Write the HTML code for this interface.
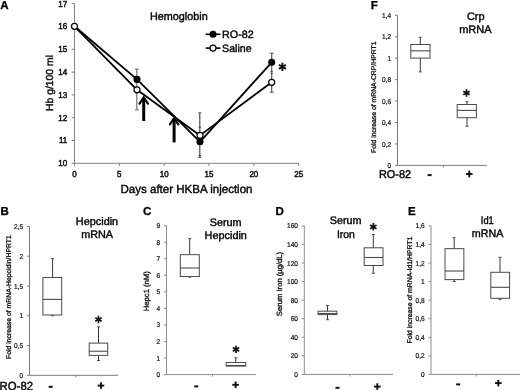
<!DOCTYPE html>
<html><head><meta charset="utf-8"><title>Figure</title>
<style>
html,body{margin:0;padding:0;background:#fff;}
body{width:520px;height:390px;overflow:hidden;font-family:"Liberation Sans",sans-serif;}
svg{display:block;will-change:transform;filter:blur(0.35px);}
text{font-family:"Liberation Sans",sans-serif;text-rendering:geometricPrecision;}
</style></head><body>
<svg width="520" height="390" viewBox="0 0 520 390" font-family="'Liberation Sans', sans-serif">
<rect width="520" height="390" fill="#fff"/>
<line x1="74.50" y1="3.70" x2="74.50" y2="163.30" stroke="#858585" stroke-width="1"/>
<line x1="74.50" y1="163.30" x2="298.70" y2="163.30" stroke="#858585" stroke-width="1"/>
<line x1="71.70" y1="163.30" x2="74.50" y2="163.30" stroke="#7a7a7a" stroke-width="1"/>
<text x="0" y="0" font-size="8.6" text-anchor="end" font-weight="normal" fill="#111" transform="translate(67.20 166.20) scale(0.93 1)" stroke="#111" stroke-width="0.5">10</text>
<line x1="71.70" y1="140.50" x2="74.50" y2="140.50" stroke="#7a7a7a" stroke-width="1"/>
<text x="0" y="0" font-size="8.6" text-anchor="end" font-weight="normal" fill="#111" transform="translate(67.20 143.40) scale(0.93 1)" stroke="#111" stroke-width="0.5">11</text>
<line x1="71.70" y1="117.70" x2="74.50" y2="117.70" stroke="#7a7a7a" stroke-width="1"/>
<text x="0" y="0" font-size="8.6" text-anchor="end" font-weight="normal" fill="#111" transform="translate(67.20 120.60) scale(0.93 1)" stroke="#111" stroke-width="0.5">12</text>
<line x1="71.70" y1="94.90" x2="74.50" y2="94.90" stroke="#7a7a7a" stroke-width="1"/>
<text x="0" y="0" font-size="8.6" text-anchor="end" font-weight="normal" fill="#111" transform="translate(67.20 97.80) scale(0.93 1)" stroke="#111" stroke-width="0.5">13</text>
<line x1="71.70" y1="72.10" x2="74.50" y2="72.10" stroke="#7a7a7a" stroke-width="1"/>
<text x="0" y="0" font-size="8.6" text-anchor="end" font-weight="normal" fill="#111" transform="translate(67.20 75.00) scale(0.93 1)" stroke="#111" stroke-width="0.5">14</text>
<line x1="71.70" y1="49.30" x2="74.50" y2="49.30" stroke="#7a7a7a" stroke-width="1"/>
<text x="0" y="0" font-size="8.6" text-anchor="end" font-weight="normal" fill="#111" transform="translate(67.20 52.20) scale(0.93 1)" stroke="#111" stroke-width="0.5">15</text>
<line x1="71.70" y1="26.50" x2="74.50" y2="26.50" stroke="#7a7a7a" stroke-width="1"/>
<text x="0" y="0" font-size="8.6" text-anchor="end" font-weight="normal" fill="#111" transform="translate(67.20 29.40) scale(0.93 1)" stroke="#111" stroke-width="0.5">16</text>
<line x1="71.70" y1="3.70" x2="74.50" y2="3.70" stroke="#7a7a7a" stroke-width="1"/>
<text x="0" y="0" font-size="8.6" text-anchor="end" font-weight="normal" fill="#111" transform="translate(67.20 6.60) scale(0.93 1)" stroke="#111" stroke-width="0.5">17</text>
<line x1="74.50" y1="163.30" x2="74.50" y2="165.90" stroke="#7a7a7a" stroke-width="1"/>
<text x="0" y="0" font-size="8.6" text-anchor="middle" font-weight="normal" fill="#111" transform="translate(74.50 176.60) scale(0.93 1)" stroke="#111" stroke-width="0.5">0</text>
<line x1="119.34" y1="163.30" x2="119.34" y2="165.90" stroke="#7a7a7a" stroke-width="1"/>
<text x="0" y="0" font-size="8.6" text-anchor="middle" font-weight="normal" fill="#111" transform="translate(119.34 176.60) scale(0.93 1)" stroke="#111" stroke-width="0.5">5</text>
<line x1="164.18" y1="163.30" x2="164.18" y2="165.90" stroke="#7a7a7a" stroke-width="1"/>
<text x="0" y="0" font-size="8.6" text-anchor="middle" font-weight="normal" fill="#111" transform="translate(164.18 176.60) scale(0.93 1)" stroke="#111" stroke-width="0.5">10</text>
<line x1="209.02" y1="163.30" x2="209.02" y2="165.90" stroke="#7a7a7a" stroke-width="1"/>
<text x="0" y="0" font-size="8.6" text-anchor="middle" font-weight="normal" fill="#111" transform="translate(209.02 176.60) scale(0.93 1)" stroke="#111" stroke-width="0.5">15</text>
<line x1="253.86" y1="163.30" x2="253.86" y2="165.90" stroke="#7a7a7a" stroke-width="1"/>
<text x="0" y="0" font-size="8.6" text-anchor="middle" font-weight="normal" fill="#111" transform="translate(253.86 176.60) scale(0.93 1)" stroke="#111" stroke-width="0.5">20</text>
<line x1="298.70" y1="163.30" x2="298.70" y2="165.90" stroke="#7a7a7a" stroke-width="1"/>
<text x="0" y="0" font-size="8.6" text-anchor="middle" font-weight="normal" fill="#111" transform="translate(298.70 176.60) scale(0.93 1)" stroke="#111" stroke-width="0.5">25</text>
<text x="53.4" y="83" font-size="10.2" text-anchor="middle" font-weight="normal" fill="#111" transform="rotate(-90 53.4 83)" textLength="56" lengthAdjust="spacingAndGlyphs" stroke="#111" stroke-width="0.45">Hb g/100 ml</text>
<text x="120.5" y="193.1" font-size="11.7" text-anchor="start" font-weight="normal" fill="#050505" textLength="132" lengthAdjust="spacingAndGlyphs" stroke="#050505" stroke-width="0.42">Days after HKBA injection</text>
<text x="150" y="20.1" font-size="11" text-anchor="start" font-weight="normal" fill="#050505" textLength="57.7" lengthAdjust="spacingAndGlyphs" stroke="#050505" stroke-width="0.42">Hemoglobin</text>
<text x="0.3" y="9.2" font-size="11.5" text-anchor="start" font-weight="bold" fill="#000" stroke="#000" stroke-width="0.3">A</text>
<line x1="136.80" y1="69.10" x2="136.80" y2="109.90" stroke="#6e6e6e" stroke-width="1.15"/>
<line x1="134.80" y1="69.10" x2="138.80" y2="69.10" stroke="#6e6e6e" stroke-width="1"/>
<line x1="134.80" y1="109.90" x2="138.80" y2="109.90" stroke="#6e6e6e" stroke-width="1"/>
<line x1="199.80" y1="112.90" x2="199.80" y2="157.60" stroke="#454545" stroke-width="1.15"/>
<line x1="198.20" y1="112.90" x2="201.40" y2="112.90" stroke="#454545" stroke-width="1"/>
<line x1="198.60" y1="127.20" x2="201.00" y2="127.20" stroke="#454545" stroke-width="1"/>
<line x1="198.40" y1="155.70" x2="201.20" y2="155.70" stroke="#454545" stroke-width="1"/>
<line x1="198.40" y1="157.40" x2="201.20" y2="157.40" stroke="#454545" stroke-width="1"/>
<line x1="271.70" y1="53.20" x2="271.70" y2="92.20" stroke="#505050" stroke-width="1.15"/>
<line x1="269.70" y1="53.20" x2="273.70" y2="53.20" stroke="#505050" stroke-width="1"/>
<line x1="270.50" y1="71.60" x2="272.90" y2="71.60" stroke="#505050" stroke-width="1"/>
<line x1="270.50" y1="73.30" x2="272.90" y2="73.30" stroke="#505050" stroke-width="1"/>
<line x1="269.70" y1="92.20" x2="273.70" y2="92.20" stroke="#505050" stroke-width="1"/>
<polyline points="74.50,26.30 137.00,89.80 200.00,135.40 271.70,82.30" fill="none" stroke="#000" stroke-width="1.8" stroke-linejoin="round"/>
<polyline points="74.50,26.30 137.00,79.40 200.00,141.80 271.70,62.30" fill="none" stroke="#000" stroke-width="1.8" stroke-linejoin="round"/>
<circle cx="137.00" cy="79.40" r="3.55" fill="#000"/>
<circle cx="200.00" cy="141.80" r="3.55" fill="#000"/>
<circle cx="271.70" cy="62.30" r="3.55" fill="#000"/>
<circle cx="74.50" cy="26.30" r="3.0" fill="#fff" stroke="#000" stroke-width="1.2"/>
<circle cx="137.00" cy="89.80" r="3.0" fill="#fff" stroke="#000" stroke-width="1.2"/>
<circle cx="200.00" cy="135.40" r="3.0" fill="#fff" stroke="#000" stroke-width="1.2"/>
<circle cx="271.70" cy="82.30" r="3.0" fill="#fff" stroke="#000" stroke-width="1.2"/>
<path d="M143.7 121.0 L143.7 98.0" stroke="#000" stroke-width="3.0" fill="none"/>
<path d="M139.5 103.7 L143.7 97.5 L147.89999999999998 103.7" stroke="#000" stroke-width="2.2" fill="none" stroke-linecap="round" stroke-linejoin="miter"/>
<path d="M174.1 142.4 L174.1 118.7" stroke="#000" stroke-width="3.0" fill="none"/>
<path d="M169.9 124.4 L174.1 118.2 L178.29999999999998 124.4" stroke="#000" stroke-width="2.2" fill="none" stroke-linecap="round" stroke-linejoin="miter"/>
<line x1="205.70" y1="34.30" x2="220.50" y2="34.30" stroke="#000" stroke-width="1.6"/>
<circle cx="213" cy="34.3" r="3.55" fill="#000"/>
<text x="222.1" y="38.2" font-size="10.7" text-anchor="start" font-weight="normal" fill="#050505" textLength="31.6" lengthAdjust="spacingAndGlyphs" stroke="#050505" stroke-width="0.42">RO-82</text>
<line x1="205.70" y1="48.10" x2="220.50" y2="48.10" stroke="#000" stroke-width="1.6"/>
<circle cx="213" cy="48.1" r="3.0" fill="#fff" stroke="#000" stroke-width="1.2"/>
<text x="222.1" y="52" font-size="10.7" text-anchor="start" font-weight="normal" fill="#050505" textLength="29.5" lengthAdjust="spacingAndGlyphs" stroke="#050505" stroke-width="0.42">Saline</text>
<path d="M282.40 62.70L282.40 70.90M278.85 64.75L285.95 68.85M285.95 64.75L278.85 68.85" stroke="#111" stroke-width="1.9" fill="none"/>
<line x1="397.50" y1="15.30" x2="397.50" y2="165.40" stroke="#7a7a7a" stroke-width="1"/>
<line x1="397.50" y1="165.40" x2="487.00" y2="165.40" stroke="#7a7a7a" stroke-width="1"/>
<line x1="395.00" y1="165.40" x2="397.50" y2="165.40" stroke="#7a7a7a" stroke-width="1"/>
<text x="0" y="0" font-size="7.1" text-anchor="end" font-weight="normal" fill="#151515" transform="translate(391.10 167.95) scale(0.92 1)" stroke="#151515" stroke-width="0.22">0</text>
<line x1="395.00" y1="143.96" x2="397.50" y2="143.96" stroke="#7a7a7a" stroke-width="1"/>
<text x="0" y="0" font-size="7.1" text-anchor="end" font-weight="normal" fill="#151515" transform="translate(391.10 146.51) scale(0.92 1)" stroke="#151515" stroke-width="0.22">0,2</text>
<line x1="395.00" y1="122.51" x2="397.50" y2="122.51" stroke="#7a7a7a" stroke-width="1"/>
<text x="0" y="0" font-size="7.1" text-anchor="end" font-weight="normal" fill="#151515" transform="translate(391.10 125.06) scale(0.92 1)" stroke="#151515" stroke-width="0.22">0,4</text>
<line x1="395.00" y1="101.07" x2="397.50" y2="101.07" stroke="#7a7a7a" stroke-width="1"/>
<text x="0" y="0" font-size="7.1" text-anchor="end" font-weight="normal" fill="#151515" transform="translate(391.10 103.62) scale(0.92 1)" stroke="#151515" stroke-width="0.22">0,6</text>
<line x1="395.00" y1="79.63" x2="397.50" y2="79.63" stroke="#7a7a7a" stroke-width="1"/>
<text x="0" y="0" font-size="7.1" text-anchor="end" font-weight="normal" fill="#151515" transform="translate(391.10 82.18) scale(0.92 1)" stroke="#151515" stroke-width="0.22">0,8</text>
<line x1="395.00" y1="58.19" x2="397.50" y2="58.19" stroke="#7a7a7a" stroke-width="1"/>
<text x="0" y="0" font-size="7.1" text-anchor="end" font-weight="normal" fill="#151515" transform="translate(391.10 60.74) scale(0.92 1)" stroke="#151515" stroke-width="0.22">1</text>
<line x1="395.00" y1="36.74" x2="397.50" y2="36.74" stroke="#7a7a7a" stroke-width="1"/>
<text x="0" y="0" font-size="7.1" text-anchor="end" font-weight="normal" fill="#151515" transform="translate(391.10 39.29) scale(0.92 1)" stroke="#151515" stroke-width="0.22">1,2</text>
<line x1="395.00" y1="15.30" x2="397.50" y2="15.30" stroke="#7a7a7a" stroke-width="1"/>
<text x="0" y="0" font-size="7.1" text-anchor="end" font-weight="normal" fill="#151515" transform="translate(391.10 17.85) scale(0.92 1)" stroke="#151515" stroke-width="0.22">1,4</text>
<line x1="443.25" y1="165.40" x2="443.25" y2="167.40" stroke="#7a7a7a" stroke-width="1"/>
<line x1="420.30" y1="37.30" x2="420.30" y2="44.50" stroke="#383838" stroke-width="1"/>
<line x1="418.80" y1="37.30" x2="421.80" y2="37.30" stroke="#4a4a4a" stroke-width="1"/>
<line x1="420.30" y1="58.10" x2="420.30" y2="71.90" stroke="#383838" stroke-width="1"/>
<line x1="418.80" y1="71.90" x2="421.80" y2="71.90" stroke="#4a4a4a" stroke-width="1"/>
<rect x="410.80" y="44.50" width="19.20" height="13.60" fill="#fff" stroke="#4a4a4a" stroke-width="1"/>
<line x1="410.80" y1="50.85" x2="430.00" y2="50.85" stroke="#4a4a4a" stroke-width="1.1"/>
<line x1="467.00" y1="101.70" x2="467.00" y2="104.50" stroke="#383838" stroke-width="1"/>
<line x1="465.50" y1="101.70" x2="468.50" y2="101.70" stroke="#4a4a4a" stroke-width="1"/>
<line x1="467.00" y1="117.70" x2="467.00" y2="126.30" stroke="#383838" stroke-width="1"/>
<line x1="465.50" y1="126.30" x2="468.50" y2="126.30" stroke="#4a4a4a" stroke-width="1"/>
<rect x="457.20" y="104.50" width="19.20" height="13.20" fill="#fff" stroke="#4a4a4a" stroke-width="1"/>
<line x1="457.20" y1="110.40" x2="476.40" y2="110.40" stroke="#4a4a4a" stroke-width="1.1"/>
<text x="376.2" y="97.2" font-size="6.83" text-anchor="middle" font-weight="normal" fill="#111" transform="rotate(-90 376.2 97.2)" textLength="111.5" lengthAdjust="spacingAndGlyphs" stroke="#111" stroke-width="0.32">Fold increase of mRNA-CRP/HPRT1</text>
<text x="466.9" y="19.7" font-size="10.9" text-anchor="start" font-weight="normal" fill="#050505" textLength="17.7" lengthAdjust="spacingAndGlyphs" stroke="#050505" stroke-width="0.42">Crp</text>
<text x="459.2" y="32.6" font-size="10.9" text-anchor="start" font-weight="normal" fill="#050505" textLength="32.3" lengthAdjust="spacingAndGlyphs" stroke="#050505" stroke-width="0.42">mRNA</text>
<text x="370.8" y="9.2" font-size="11.5" text-anchor="start" font-weight="bold" fill="#000" stroke="#000" stroke-width="0.3">F</text>
<rect x="427.60" y="174.10" width="4.0" height="2.0" fill="#111"/>
<rect x="465.95" y="173.05" width="6.6" height="1.9" fill="#111"/>
<rect x="468.30" y="170.70" width="1.9" height="6.6" fill="#111"/>
<text x="378.9" y="177.6" font-size="11.3" text-anchor="start" font-weight="normal" fill="#050505" textLength="32.2" lengthAdjust="spacingAndGlyphs" stroke="#050505" stroke-width="0.45">RO-82</text>
<path d="M466.50 89.30L466.50 96.70M463.30 91.15L469.70 94.85M469.70 91.15L463.30 94.85" stroke="#111" stroke-width="1.7" fill="none"/>
<line x1="29.50" y1="226.40" x2="29.50" y2="375.30" stroke="#7a7a7a" stroke-width="1"/>
<line x1="29.50" y1="375.30" x2="118.00" y2="375.30" stroke="#7a7a7a" stroke-width="1"/>
<line x1="27.00" y1="375.30" x2="29.50" y2="375.30" stroke="#7a7a7a" stroke-width="1"/>
<text x="0" y="0" font-size="7.1" text-anchor="end" font-weight="normal" fill="#151515" transform="translate(23.10 377.85) scale(0.92 1)" stroke="#151515" stroke-width="0.22">0</text>
<line x1="27.00" y1="345.52" x2="29.50" y2="345.52" stroke="#7a7a7a" stroke-width="1"/>
<text x="0" y="0" font-size="7.1" text-anchor="end" font-weight="normal" fill="#151515" transform="translate(23.10 348.07) scale(0.92 1)" stroke="#151515" stroke-width="0.22">0,5</text>
<line x1="27.00" y1="315.74" x2="29.50" y2="315.74" stroke="#7a7a7a" stroke-width="1"/>
<text x="0" y="0" font-size="7.1" text-anchor="end" font-weight="normal" fill="#151515" transform="translate(23.10 318.29) scale(0.92 1)" stroke="#151515" stroke-width="0.22">1</text>
<line x1="27.00" y1="285.96" x2="29.50" y2="285.96" stroke="#7a7a7a" stroke-width="1"/>
<text x="0" y="0" font-size="7.1" text-anchor="end" font-weight="normal" fill="#151515" transform="translate(23.10 288.51) scale(0.92 1)" stroke="#151515" stroke-width="0.22">1,5</text>
<line x1="27.00" y1="256.18" x2="29.50" y2="256.18" stroke="#7a7a7a" stroke-width="1"/>
<text x="0" y="0" font-size="7.1" text-anchor="end" font-weight="normal" fill="#151515" transform="translate(23.10 258.73) scale(0.92 1)" stroke="#151515" stroke-width="0.22">2</text>
<line x1="27.00" y1="226.40" x2="29.50" y2="226.40" stroke="#7a7a7a" stroke-width="1"/>
<text x="0" y="0" font-size="7.1" text-anchor="end" font-weight="normal" fill="#151515" transform="translate(23.10 228.95) scale(0.92 1)" stroke="#151515" stroke-width="0.22">2,5</text>
<line x1="75.75" y1="375.30" x2="75.75" y2="377.30" stroke="#7a7a7a" stroke-width="1"/>
<line x1="52.60" y1="258.65" x2="52.60" y2="277.50" stroke="#383838" stroke-width="1"/>
<line x1="51.10" y1="258.65" x2="54.10" y2="258.65" stroke="#4a4a4a" stroke-width="1"/>
<line x1="52.60" y1="315.00" x2="52.60" y2="315.70" stroke="#383838" stroke-width="1"/>
<line x1="51.10" y1="315.70" x2="54.10" y2="315.70" stroke="#4a4a4a" stroke-width="1"/>
<rect x="42.90" y="277.50" width="18.80" height="37.50" fill="#fff" stroke="#4a4a4a" stroke-width="1"/>
<line x1="42.90" y1="299.40" x2="61.70" y2="299.40" stroke="#4a4a4a" stroke-width="1.1"/>
<line x1="98.50" y1="326.90" x2="98.50" y2="343.10" stroke="#383838" stroke-width="1"/>
<line x1="97.00" y1="326.90" x2="100.00" y2="326.90" stroke="#4a4a4a" stroke-width="1"/>
<line x1="98.50" y1="355.40" x2="98.50" y2="360.50" stroke="#383838" stroke-width="1"/>
<line x1="97.00" y1="360.50" x2="100.00" y2="360.50" stroke="#4a4a4a" stroke-width="1"/>
<rect x="89.20" y="343.10" width="18.50" height="12.30" fill="#fff" stroke="#4a4a4a" stroke-width="1"/>
<line x1="89.20" y1="351.20" x2="107.70" y2="351.20" stroke="#4a4a4a" stroke-width="1.1"/>
<text x="10.7" y="297.1" font-size="6.84" text-anchor="middle" font-weight="normal" fill="#111" transform="rotate(-90 10.7 297.1)" textLength="123.8" lengthAdjust="spacingAndGlyphs" stroke="#111" stroke-width="0.32">Fold increase of mRNA-Hepcidin/HPRT1</text>
<text x="75.8" y="225" font-size="10.9" text-anchor="start" font-weight="normal" fill="#050505" textLength="42.4" lengthAdjust="spacingAndGlyphs" stroke="#050505" stroke-width="0.42">Hepcidin</text>
<text x="81.2" y="238.1" font-size="10.9" text-anchor="start" font-weight="normal" fill="#050505" textLength="31.9" lengthAdjust="spacingAndGlyphs" stroke="#050505" stroke-width="0.42">mRNA</text>
<text x="0.4" y="215.0" font-size="11.5" text-anchor="start" font-weight="bold" fill="#000" stroke="#000" stroke-width="0.3">B</text>
<rect x="48.70" y="385.80" width="4.0" height="2.0" fill="#111"/>
<rect x="97.65" y="384.65" width="6.6" height="1.9" fill="#111"/>
<rect x="100.00" y="382.30" width="1.9" height="6.6" fill="#111"/>
<text x="-0.4" y="389.9" font-size="11.8" text-anchor="start" font-weight="normal" fill="#050505" textLength="33.4" lengthAdjust="spacingAndGlyphs" stroke="#050505" stroke-width="0.45">RO-82</text>
<path d="M98.50 315.80L98.50 323.20M95.30 317.65L101.70 321.35M101.70 317.65L95.30 321.35" stroke="#111" stroke-width="1.7" fill="none"/>
<line x1="166.50" y1="225.60" x2="166.50" y2="374.60" stroke="#8c8c8c" stroke-width="1"/>
<line x1="166.50" y1="374.60" x2="255.80" y2="374.60" stroke="#8c8c8c" stroke-width="1"/>
<line x1="164.00" y1="374.60" x2="166.50" y2="374.60" stroke="#8c8c8c" stroke-width="1"/>
<text x="0" y="0" font-size="7.1" text-anchor="end" font-weight="normal" fill="#151515" transform="translate(160.10 377.15) scale(0.92 1)" stroke="#151515" stroke-width="0.22">0</text>
<line x1="164.00" y1="358.04" x2="166.50" y2="358.04" stroke="#8c8c8c" stroke-width="1"/>
<text x="0" y="0" font-size="7.1" text-anchor="end" font-weight="normal" fill="#151515" transform="translate(160.10 360.59) scale(0.92 1)" stroke="#151515" stroke-width="0.22">1</text>
<line x1="164.00" y1="341.49" x2="166.50" y2="341.49" stroke="#8c8c8c" stroke-width="1"/>
<text x="0" y="0" font-size="7.1" text-anchor="end" font-weight="normal" fill="#151515" transform="translate(160.10 344.04) scale(0.92 1)" stroke="#151515" stroke-width="0.22">2</text>
<line x1="164.00" y1="324.93" x2="166.50" y2="324.93" stroke="#8c8c8c" stroke-width="1"/>
<text x="0" y="0" font-size="7.1" text-anchor="end" font-weight="normal" fill="#151515" transform="translate(160.10 327.48) scale(0.92 1)" stroke="#151515" stroke-width="0.22">3</text>
<line x1="164.00" y1="308.38" x2="166.50" y2="308.38" stroke="#8c8c8c" stroke-width="1"/>
<text x="0" y="0" font-size="7.1" text-anchor="end" font-weight="normal" fill="#151515" transform="translate(160.10 310.93) scale(0.92 1)" stroke="#151515" stroke-width="0.22">4</text>
<line x1="164.00" y1="291.82" x2="166.50" y2="291.82" stroke="#8c8c8c" stroke-width="1"/>
<text x="0" y="0" font-size="7.1" text-anchor="end" font-weight="normal" fill="#151515" transform="translate(160.10 294.37) scale(0.92 1)" stroke="#151515" stroke-width="0.22">5</text>
<line x1="164.00" y1="275.27" x2="166.50" y2="275.27" stroke="#8c8c8c" stroke-width="1"/>
<text x="0" y="0" font-size="7.1" text-anchor="end" font-weight="normal" fill="#151515" transform="translate(160.10 277.82) scale(0.92 1)" stroke="#151515" stroke-width="0.22">6</text>
<line x1="164.00" y1="258.71" x2="166.50" y2="258.71" stroke="#8c8c8c" stroke-width="1"/>
<text x="0" y="0" font-size="7.1" text-anchor="end" font-weight="normal" fill="#151515" transform="translate(160.10 261.26) scale(0.92 1)" stroke="#151515" stroke-width="0.22">7</text>
<line x1="164.00" y1="242.16" x2="166.50" y2="242.16" stroke="#8c8c8c" stroke-width="1"/>
<text x="0" y="0" font-size="7.1" text-anchor="end" font-weight="normal" fill="#151515" transform="translate(160.10 244.71) scale(0.92 1)" stroke="#151515" stroke-width="0.22">8</text>
<line x1="164.00" y1="225.60" x2="166.50" y2="225.60" stroke="#8c8c8c" stroke-width="1"/>
<text x="0" y="0" font-size="7.1" text-anchor="end" font-weight="normal" fill="#151515" transform="translate(160.10 228.15) scale(0.92 1)" stroke="#151515" stroke-width="0.22">9</text>
<line x1="212.50" y1="374.60" x2="212.50" y2="376.60" stroke="#8c8c8c" stroke-width="1"/>
<line x1="189.70" y1="238.45" x2="189.70" y2="254.65" stroke="#383838" stroke-width="1"/>
<line x1="188.20" y1="238.45" x2="191.20" y2="238.45" stroke="#4a4a4a" stroke-width="1"/>
<line x1="189.70" y1="276.50" x2="189.70" y2="277.10" stroke="#383838" stroke-width="1"/>
<line x1="188.20" y1="277.10" x2="191.20" y2="277.10" stroke="#4a4a4a" stroke-width="1"/>
<rect x="180.30" y="254.65" width="19.00" height="21.85" fill="#fff" stroke="#4a4a4a" stroke-width="1"/>
<line x1="180.30" y1="268.00" x2="199.30" y2="268.00" stroke="#4a4a4a" stroke-width="1.1"/>
<line x1="235.80" y1="357.80" x2="235.80" y2="362.50" stroke="#383838" stroke-width="1"/>
<line x1="234.30" y1="357.80" x2="237.30" y2="357.80" stroke="#4a4a4a" stroke-width="1"/>
<rect x="226.10" y="362.50" width="19.70" height="3.60" fill="#fff" stroke="#4a4a4a" stroke-width="1"/>
<line x1="226.10" y1="365.50" x2="245.80" y2="365.50" stroke="#4a4a4a" stroke-width="1.1"/>
<text x="149.2" y="291.2" font-size="7.65" text-anchor="middle" font-weight="normal" fill="#111" transform="rotate(-90 149.2 291.2)" textLength="40" lengthAdjust="spacingAndGlyphs" stroke="#111" stroke-width="0.32">Hepc1 (nM)</text>
<text x="209.7" y="225.8" font-size="10.9" text-anchor="start" font-weight="normal" fill="#050505" textLength="31.8" lengthAdjust="spacingAndGlyphs" stroke="#050505" stroke-width="0.42">Serum</text>
<text x="204.6" y="239.2" font-size="10.9" text-anchor="start" font-weight="normal" fill="#050505" textLength="42.3" lengthAdjust="spacingAndGlyphs" stroke="#050505" stroke-width="0.42">Hepcidin</text>
<text x="142.9" y="215.3" font-size="11.5" text-anchor="start" font-weight="bold" fill="#000" stroke="#000" stroke-width="0.3">C</text>
<rect x="194.25" y="385.40" width="4.0" height="2.0" fill="#111"/>
<rect x="232.30" y="383.85" width="6.6" height="1.9" fill="#111"/>
<rect x="234.65" y="381.50" width="1.9" height="6.6" fill="#111"/>
<path d="M236.00 345.70L236.00 353.10M232.80 347.55L239.20 351.25M239.20 347.55L232.80 351.25" stroke="#111" stroke-width="1.7" fill="none"/>
<line x1="304.30" y1="225.90" x2="304.30" y2="374.40" stroke="#8c8c8c" stroke-width="1"/>
<line x1="304.30" y1="374.40" x2="393.00" y2="374.40" stroke="#8c8c8c" stroke-width="1"/>
<line x1="301.80" y1="374.40" x2="304.30" y2="374.40" stroke="#8c8c8c" stroke-width="1"/>
<text x="0" y="0" font-size="7.1" text-anchor="end" font-weight="normal" fill="#151515" transform="translate(297.90 376.95) scale(0.92 1)" stroke="#151515" stroke-width="0.22">0</text>
<line x1="301.80" y1="355.84" x2="304.30" y2="355.84" stroke="#8c8c8c" stroke-width="1"/>
<text x="0" y="0" font-size="7.1" text-anchor="end" font-weight="normal" fill="#151515" transform="translate(297.90 358.39) scale(0.92 1)" stroke="#151515" stroke-width="0.22">20</text>
<line x1="301.80" y1="337.27" x2="304.30" y2="337.27" stroke="#8c8c8c" stroke-width="1"/>
<text x="0" y="0" font-size="7.1" text-anchor="end" font-weight="normal" fill="#151515" transform="translate(297.90 339.82) scale(0.92 1)" stroke="#151515" stroke-width="0.22">40</text>
<line x1="301.80" y1="318.71" x2="304.30" y2="318.71" stroke="#8c8c8c" stroke-width="1"/>
<text x="0" y="0" font-size="7.1" text-anchor="end" font-weight="normal" fill="#151515" transform="translate(297.90 321.26) scale(0.92 1)" stroke="#151515" stroke-width="0.22">60</text>
<line x1="301.80" y1="300.15" x2="304.30" y2="300.15" stroke="#8c8c8c" stroke-width="1"/>
<text x="0" y="0" font-size="7.1" text-anchor="end" font-weight="normal" fill="#151515" transform="translate(297.90 302.70) scale(0.92 1)" stroke="#151515" stroke-width="0.22">80</text>
<line x1="301.80" y1="281.59" x2="304.30" y2="281.59" stroke="#8c8c8c" stroke-width="1"/>
<text x="0" y="0" font-size="7.1" text-anchor="end" font-weight="normal" fill="#151515" transform="translate(297.90 284.14) scale(0.92 1)" stroke="#151515" stroke-width="0.22">100</text>
<line x1="301.80" y1="263.02" x2="304.30" y2="263.02" stroke="#8c8c8c" stroke-width="1"/>
<text x="0" y="0" font-size="7.1" text-anchor="end" font-weight="normal" fill="#151515" transform="translate(297.90 265.57) scale(0.92 1)" stroke="#151515" stroke-width="0.22">120</text>
<line x1="301.80" y1="244.46" x2="304.30" y2="244.46" stroke="#8c8c8c" stroke-width="1"/>
<text x="0" y="0" font-size="7.1" text-anchor="end" font-weight="normal" fill="#151515" transform="translate(297.90 247.01) scale(0.92 1)" stroke="#151515" stroke-width="0.22">140</text>
<line x1="301.80" y1="225.90" x2="304.30" y2="225.90" stroke="#8c8c8c" stroke-width="1"/>
<text x="0" y="0" font-size="7.1" text-anchor="end" font-weight="normal" fill="#151515" transform="translate(297.90 228.45) scale(0.92 1)" stroke="#151515" stroke-width="0.22">160</text>
<line x1="350.00" y1="374.40" x2="350.00" y2="376.40" stroke="#8c8c8c" stroke-width="1"/>
<line x1="327.50" y1="305.60" x2="327.50" y2="311.20" stroke="#383838" stroke-width="1"/>
<line x1="326.00" y1="305.60" x2="329.00" y2="305.60" stroke="#4a4a4a" stroke-width="1"/>
<line x1="327.50" y1="314.60" x2="327.50" y2="319.70" stroke="#383838" stroke-width="1"/>
<line x1="326.00" y1="319.70" x2="329.00" y2="319.70" stroke="#4a4a4a" stroke-width="1"/>
<rect x="318.10" y="311.20" width="18.80" height="3.40" fill="#fff" stroke="#4a4a4a" stroke-width="1"/>
<line x1="318.10" y1="313.60" x2="336.90" y2="313.60" stroke="#4a4a4a" stroke-width="1.1"/>
<line x1="373.30" y1="234.50" x2="373.30" y2="247.80" stroke="#383838" stroke-width="1"/>
<line x1="371.80" y1="234.50" x2="374.80" y2="234.50" stroke="#4a4a4a" stroke-width="1"/>
<line x1="373.30" y1="265.50" x2="373.30" y2="273.30" stroke="#383838" stroke-width="1"/>
<line x1="371.80" y1="273.30" x2="374.80" y2="273.30" stroke="#4a4a4a" stroke-width="1"/>
<rect x="364.20" y="247.80" width="18.80" height="17.70" fill="#fff" stroke="#4a4a4a" stroke-width="1"/>
<line x1="364.20" y1="257.50" x2="383.00" y2="257.50" stroke="#4a4a4a" stroke-width="1.1"/>
<text x="281.8" y="284" font-size="7.65" text-anchor="middle" font-weight="normal" fill="#111" transform="rotate(-90 281.8 284)" textLength="64.3" lengthAdjust="spacingAndGlyphs" stroke="#111" stroke-width="0.32">Serum Iron (µg/dL)</text>
<text x="329.7" y="224.2" font-size="10.9" text-anchor="start" font-weight="normal" fill="#050505" textLength="31.8" lengthAdjust="spacingAndGlyphs" stroke="#050505" stroke-width="0.42">Serum</text>
<text x="336.9" y="237.6" font-size="10.9" text-anchor="start" font-weight="normal" fill="#050505" textLength="18" lengthAdjust="spacingAndGlyphs" stroke="#050505" stroke-width="0.42">Iron</text>
<text x="275.5" y="215.1" font-size="11.5" text-anchor="start" font-weight="bold" fill="#000" stroke="#000" stroke-width="0.3">D</text>
<rect x="335.50" y="386.80" width="4.0" height="2.0" fill="#111"/>
<rect x="374.00" y="385.65" width="6.6" height="1.9" fill="#111"/>
<rect x="376.35" y="383.30" width="1.9" height="6.6" fill="#111"/>
<path d="M373.30 223.10L373.30 230.50M370.10 224.95L376.50 228.65M376.50 224.95L370.10 228.65" stroke="#111" stroke-width="1.7" fill="none"/>
<line x1="431.00" y1="225.90" x2="431.00" y2="374.40" stroke="#8c8c8c" stroke-width="1"/>
<line x1="431.00" y1="374.40" x2="520.00" y2="374.40" stroke="#8c8c8c" stroke-width="1"/>
<line x1="428.50" y1="374.40" x2="431.00" y2="374.40" stroke="#8c8c8c" stroke-width="1"/>
<text x="0" y="0" font-size="7.1" text-anchor="end" font-weight="normal" fill="#151515" transform="translate(424.60 376.95) scale(0.92 1)" stroke="#151515" stroke-width="0.22">0</text>
<line x1="428.50" y1="355.84" x2="431.00" y2="355.84" stroke="#8c8c8c" stroke-width="1"/>
<text x="0" y="0" font-size="7.1" text-anchor="end" font-weight="normal" fill="#151515" transform="translate(424.60 358.39) scale(0.92 1)" stroke="#151515" stroke-width="0.22">0,2</text>
<line x1="428.50" y1="337.27" x2="431.00" y2="337.27" stroke="#8c8c8c" stroke-width="1"/>
<text x="0" y="0" font-size="7.1" text-anchor="end" font-weight="normal" fill="#151515" transform="translate(424.60 339.82) scale(0.92 1)" stroke="#151515" stroke-width="0.22">0,4</text>
<line x1="428.50" y1="318.71" x2="431.00" y2="318.71" stroke="#8c8c8c" stroke-width="1"/>
<text x="0" y="0" font-size="7.1" text-anchor="end" font-weight="normal" fill="#151515" transform="translate(424.60 321.26) scale(0.92 1)" stroke="#151515" stroke-width="0.22">0,6</text>
<line x1="428.50" y1="300.15" x2="431.00" y2="300.15" stroke="#8c8c8c" stroke-width="1"/>
<text x="0" y="0" font-size="7.1" text-anchor="end" font-weight="normal" fill="#151515" transform="translate(424.60 302.70) scale(0.92 1)" stroke="#151515" stroke-width="0.22">0,8</text>
<line x1="428.50" y1="281.59" x2="431.00" y2="281.59" stroke="#8c8c8c" stroke-width="1"/>
<text x="0" y="0" font-size="7.1" text-anchor="end" font-weight="normal" fill="#151515" transform="translate(424.60 284.14) scale(0.92 1)" stroke="#151515" stroke-width="0.22">1</text>
<line x1="428.50" y1="263.02" x2="431.00" y2="263.02" stroke="#8c8c8c" stroke-width="1"/>
<text x="0" y="0" font-size="7.1" text-anchor="end" font-weight="normal" fill="#151515" transform="translate(424.60 265.57) scale(0.92 1)" stroke="#151515" stroke-width="0.22">1,2</text>
<line x1="428.50" y1="244.46" x2="431.00" y2="244.46" stroke="#8c8c8c" stroke-width="1"/>
<text x="0" y="0" font-size="7.1" text-anchor="end" font-weight="normal" fill="#151515" transform="translate(424.60 247.01) scale(0.92 1)" stroke="#151515" stroke-width="0.22">1,4</text>
<line x1="428.50" y1="225.90" x2="431.00" y2="225.90" stroke="#8c8c8c" stroke-width="1"/>
<text x="0" y="0" font-size="7.1" text-anchor="end" font-weight="normal" fill="#151515" transform="translate(424.60 228.45) scale(0.92 1)" stroke="#151515" stroke-width="0.22">1,6</text>
<line x1="476.25" y1="374.40" x2="476.25" y2="376.40" stroke="#8c8c8c" stroke-width="1"/>
<line x1="454.20" y1="237.70" x2="454.20" y2="248.65" stroke="#383838" stroke-width="1"/>
<line x1="452.70" y1="237.70" x2="455.70" y2="237.70" stroke="#4a4a4a" stroke-width="1"/>
<line x1="454.20" y1="279.60" x2="454.20" y2="281.50" stroke="#383838" stroke-width="1"/>
<line x1="452.70" y1="281.50" x2="455.70" y2="281.50" stroke="#4a4a4a" stroke-width="1"/>
<rect x="445.00" y="248.65" width="18.85" height="30.95" fill="#fff" stroke="#4a4a4a" stroke-width="1"/>
<line x1="445.00" y1="271.00" x2="463.85" y2="271.00" stroke="#4a4a4a" stroke-width="1.1"/>
<line x1="500.00" y1="257.30" x2="500.00" y2="272.30" stroke="#383838" stroke-width="1"/>
<line x1="498.50" y1="257.30" x2="501.50" y2="257.30" stroke="#4a4a4a" stroke-width="1"/>
<line x1="500.00" y1="298.30" x2="500.00" y2="299.60" stroke="#383838" stroke-width="1"/>
<line x1="498.50" y1="299.60" x2="501.50" y2="299.60" stroke="#4a4a4a" stroke-width="1"/>
<rect x="490.80" y="272.30" width="18.80" height="26.00" fill="#fff" stroke="#4a4a4a" stroke-width="1"/>
<line x1="490.80" y1="287.30" x2="509.60" y2="287.30" stroke="#4a4a4a" stroke-width="1.1"/>
<text x="412.3" y="290.1" font-size="6.85" text-anchor="middle" font-weight="normal" fill="#111" transform="rotate(-90 412.3 290.1)" textLength="106.8" lengthAdjust="spacingAndGlyphs" stroke="#111" stroke-width="0.32">Fold increase of mRNA-Id1/HPRT1</text>
<text x="480.8" y="223.8" font-size="10.9" text-anchor="start" font-weight="normal" fill="#050505" textLength="13" lengthAdjust="spacingAndGlyphs" stroke="#050505" stroke-width="0.42">Id1</text>
<text x="471.8" y="237" font-size="10.9" text-anchor="start" font-weight="normal" fill="#050505" textLength="31.6" lengthAdjust="spacingAndGlyphs" stroke="#050505" stroke-width="0.42">mRNA</text>
<text x="408.0" y="215.1" font-size="11.5" text-anchor="start" font-weight="bold" fill="#000" stroke="#000" stroke-width="0.3">E</text>
<rect x="456.20" y="383.40" width="4.0" height="2.0" fill="#111"/>
<rect x="495.00" y="382.15" width="6.6" height="1.9" fill="#111"/>
<rect x="497.35" y="379.80" width="1.9" height="6.6" fill="#111"/>
</svg>
</body></html>
